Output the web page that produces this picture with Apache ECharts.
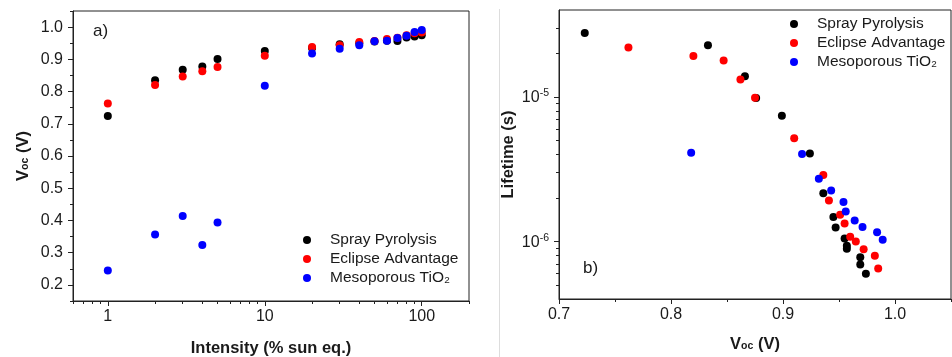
<!DOCTYPE html>
<html>
<head>
<meta charset="utf-8">
<script src="https://cdn.jsdelivr.net/npm/echarts@6/dist/echarts.min.js"></script>
<style>
  html, body { margin: 0; padding: 0; background: #fff; }
  #chart { width: 952px; height: 357px; }
</style>
</head>
<body>
<div id="chart"></div>
<script>
// panel a) Voc vs light intensity
const intensity = [1, 2, 3, 4, 5, 10, 20, 30, 40, 50, 60, 70, 80, 90, 100];
const vocSpray   = [0.724, 0.835, 0.868, 0.878, 0.901, 0.926, 0.935, 0.947, 0.950, 0.955, 0.958, 0.957, 0.968, 0.971, 0.975];
const vocEclipse = [0.763, 0.820, 0.847, 0.863, 0.876, 0.911, 0.938, 0.944, 0.954, 0.957, 0.963, 0.967, 0.975, 0.981, 0.983];
const vocMeso    = [0.245, 0.356, 0.414, 0.324, 0.394, 0.818, 0.918, 0.933, 0.944, 0.956, 0.958, 0.966, 0.973, 0.985, 0.991];

// panel b) lifetime vs Voc
const ltVocSpray = [0.723, 0.833, 0.866, 0.876, 0.899, 0.924, 0.936, 0.945, 0.947, 0.955, 0.957, 0.957, 0.969, 0.969, 0.974];
const ltSpray    = [2.77e-5, 2.28e-5, 1.39e-5, 9.84e-6, 7.42e-6, 4.07e-6, 2.16e-6, 1.48e-6, 1.25e-6, 1.05e-6, 9.33e-7, 8.9e-7, 7.78e-7, 6.93e-7, 5.97e-7];
const ltVocEclipse = [0.762, 0.820, 0.847, 0.862, 0.875, 0.910, 0.936, 0.941, 0.951, 0.955, 0.960, 0.965, 0.972, 0.982, 0.985];
const ltEclipse    = [2.20e-5, 1.92e-5, 1.79e-5, 1.32e-5, 9.9e-6, 5.18e-6, 2.88e-6, 1.92e-6, 1.53e-6, 1.33e-6, 1.08e-6, 1.00e-6, 8.85e-7, 7.96e-7, 6.50e-7];
const ltVocMeso = [0.818, 0.917, 0.932, 0.943, 0.954, 0.956, 0.964, 0.971, 0.984, 0.989];
const ltMeso    = [4.11e-6, 4.03e-6, 2.72e-6, 2.25e-6, 1.88e-6, 1.61e-6, 1.40e-6, 1.26e-6, 1.16e-6, 1.03e-6];

// ticks
const aXLabels = [1, 10, 100];
const aXMinor = [0.6, 0.7, 0.8, 0.9, 2, 3, 4, 5, 6, 7, 8, 9, 20, 30, 40, 50, 60, 70, 80, 90, 200];
const aYLabels = [0.2, 0.3, 0.4, 0.5, 0.6, 0.7, 0.8, 0.9, 1.0];
const aYMinor = [0.15, 0.25, 0.35, 0.45, 0.55, 0.65, 0.75, 0.85, 0.95, 1.05];
const bXLabels = [0.7, 0.8, 0.9, 1.0];
const bXMinor = [0.75, 0.85, 0.95, 1.05];
const bYLabels = [1e-6, 1e-5];
const bYMinor = [5e-7, 6e-7, 7e-7, 8e-7, 9e-7, 2e-6, 3e-6, 4e-6, 5e-6, 6e-6, 7e-6, 8e-6, 9e-6, 2e-5, 3e-5];

const names = ['Spray Pyrolysis', 'Eclipse Advantage', 'Mesoporous TiO\u2082'];
const colors = ['#000000', '#ff0000', '#0000ff'];

const FONT = '"Liberation Sans", Arial, sans-serif';
const INK = '#1a1a1a';
const LINE = '#222222';

const chart = echarts.init(document.getElementById('chart'));

function pairs(xs, ys) { return xs.map((x, i) => [x, ys[i]]); }

const tickLabel = { fontFamily: FONT, fontSize: 16, color: INK };
const titleStyle = { fontFamily: FONT, fontSize: 16.5, fontWeight: 'bold', color: INK };
const vocRich = {
  v: { fontFamily: FONT, fontSize: 16.5, fontWeight: 'bold', color: INK, lineHeight: 16, verticalAlign: 'top' },
  s: { fontFamily: FONT, fontSize: 10.5, fontWeight: 'bold', color: INK, lineHeight: 10, verticalAlign: 'bottom', padding: [7, 0, 0, 0] }
};
const vocName = '{v|V}{s|oc}{v| (V)}';

function majorAxis(extra) {
  return Object.assign({
    axisLine: { show: true, lineStyle: { color: LINE, width: 1 } },
    axisTick: { show: true, inside: false, length: 5, lineStyle: { color: LINE } },
    splitLine: { show: false },
    minorTick: { show: false }
  }, extra);
}
function minorAxis(extra, vals) {
  return Object.assign({
    axisLine: { show: false },
    axisLabel: { show: false },
    axisTick: { show: true, inside: false, length: 3, customValues: vals, lineStyle: { color: LINE } },
    splitLine: { show: false }
  }, extra);
}

function dots(name, color, xi, data) {
  return {
    name: name, type: 'scatter', xAxisIndex: xi, yAxisIndex: xi, symbolSize: 8,
    itemStyle: { color: color, opacity: 1 }, data: data
  };
}

const legendBase = {
  orient: 'vertical',
  icon: 'circle',
  itemWidth: 36,
  itemHeight: 8,
  itemGap: 3,
  selectedMode: false,
  data: names,
  itemStyle: { opacity: 1 },
  textStyle: { fontFamily: FONT, fontSize: 15.5, color: INK, lineHeight: 15 }
};

chart.setOption({
  animation: false,
  backgroundColor: '#ffffff',
  grid: [
    { left: 73, top: 11, width: 396, height: 290, show: true, borderColor: LINE, borderWidth: 1, outerBoundsMode: 'none' },
    { left: 559, top: 10, width: 392, height: 289, show: true, borderColor: LINE, borderWidth: 1, outerBoundsMode: 'none' }
  ],
  legend: [
    Object.assign({ left: 298, top: 227 }, legendBase),
    Object.assign({ left: 785, top: 11 }, legendBase)
  ],
  xAxis: [
    majorAxis({
      gridIndex: 0, type: 'log', logBase: 10, min: 0.6, max: 200, position: 'bottom',
      name: 'Intensity (% sun eq.)', nameLocation: 'middle', nameGap: 39, nameTextStyle: titleStyle,
      axisLabel: Object.assign({ margin: 8, customValues: aXLabels, formatter: v => String(Math.round(v)) }, tickLabel),
      axisTick: { show: true, length: 5, customValues: aXLabels, lineStyle: { color: LINE } }
    }),
    minorAxis({ gridIndex: 0, type: 'log', logBase: 10, min: 0.6, max: 200, position: 'bottom' }, aXMinor),
    majorAxis({
      gridIndex: 1, type: 'value', min: 0.7, max: 1.05, position: 'bottom',
      name: vocName, nameLocation: 'middle', nameGap: 37, nameTextStyle: { rich: vocRich },
      axisLabel: Object.assign({ margin: 8, customValues: bXLabels, formatter: v => v.toFixed(1) }, tickLabel),
      axisTick: { show: true, length: 5, customValues: bXLabels, lineStyle: { color: LINE } }
    }),
    minorAxis({ gridIndex: 1, type: 'value', min: 0.7, max: 1.05, position: 'bottom' }, bXMinor)
  ],
  yAxis: [
    majorAxis({
      gridIndex: 0, type: 'value', min: 0.15, max: 1.05, position: 'left',
      name: vocName, nameLocation: 'middle', nameGap: 42, nameRotate: 90, nameTextStyle: { rich: vocRich },
      axisLabel: Object.assign({ margin: 10, customValues: aYLabels, formatter: v => v.toFixed(1) }, tickLabel),
      axisTick: { show: true, length: 5, customValues: aYLabels, lineStyle: { color: LINE } }
    }),
    minorAxis({ gridIndex: 0, type: 'value', min: 0.15, max: 1.05, position: 'left' }, aYMinor),
    majorAxis({
      gridIndex: 1, type: 'log', logBase: 10, min: 4e-7, max: 4e-5, position: 'left',
      name: 'Lifetime (s)', nameLocation: 'middle', nameGap: 42, nameRotate: 90, nameTextStyle: titleStyle,
      axisLabel: {
        margin: 10, customValues: bYLabels,
        formatter: v => '{a|10}{s|' + Math.round(Math.log10(v)) + '}',
        rich: {
          a: { fontFamily: FONT, fontSize: 16, color: INK, lineHeight: 18, verticalAlign: 'bottom' },
          s: { fontFamily: FONT, fontSize: 10.5, color: INK, lineHeight: 10, verticalAlign: 'top' }
        }
      },
      axisTick: { show: true, length: 5, customValues: bYLabels, lineStyle: { color: LINE } }
    }),
    minorAxis({ gridIndex: 1, type: 'log', logBase: 10, min: 4e-7, max: 4e-5, position: 'left' }, bYMinor)
  ],
  series: [
    dots(names[0], colors[0], 0, pairs(intensity, vocSpray)),
    dots(names[1], colors[1], 0, pairs(intensity, vocEclipse)),
    dots(names[2], colors[2], 0, pairs(intensity, vocMeso)),
    dots(names[0], colors[0], 2, pairs(ltVocSpray, ltSpray)),
    dots(names[1], colors[1], 2, pairs(ltVocEclipse, ltEclipse)),
    dots(names[2], colors[2], 2, pairs(ltVocMeso, ltMeso))
  ],
  graphic: [
    { type: 'line', shape: { x1: 499.5, y1: 9, x2: 499.5, y2: 357 }, style: { stroke: '#dddddd', lineWidth: 1 }, silent: true },
    { type: 'text', left: 93, top: 23, style: { text: 'a)', font: '17px ' + FONT, fill: INK } },
    { type: 'text', left: 583, top: 260, style: { text: 'b)', font: '17px ' + FONT, fill: INK } }
  ]
});
</script>
</body>
</html>
